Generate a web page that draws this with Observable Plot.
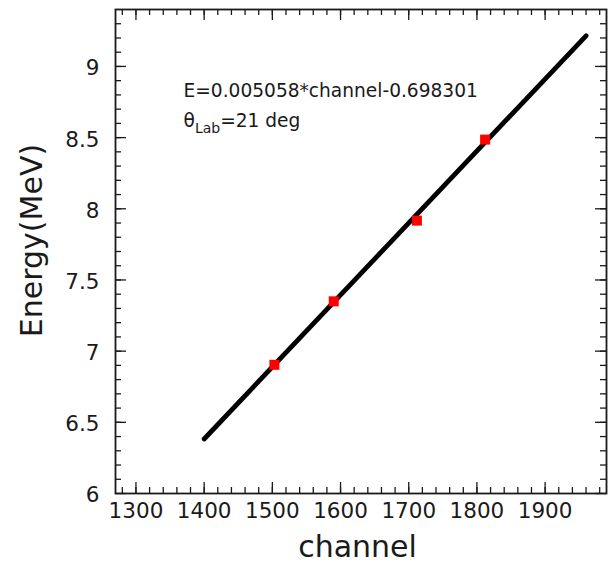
<!DOCTYPE html>
<html><head><meta charset="utf-8">
<script src="https://cdn.jsdelivr.net/npm/d3@7"></script>
<script src="https://cdn.jsdelivr.net/npm/@observablehq/plot@0.6"></script>
<style>body{margin:0;background:#fff}#chart{width:612px;height:562px}</style>
</head><body><div id="chart"></div>
<script>
// ---- data ----
const channels = [1503, 1590, 1712, 1812];
const energies = [6.904, 7.350, 7.917, 8.486];
const fitChannel = [1400, 1960];
const fitEnergy = [6.383, 9.215];
const xMajorTicks = [1300, 1400, 1500, 1600, 1700, 1800, 1900];
const yMajorTicks = [6, 6.5, 7, 7.5, 8, 8.5, 9];
const xMinorTicks = [1280,1300,1320,1340,1360,1380,1400,1420,1440,1460,1480,1500,1520,1540,1560,1580,1600,1620,1640,1660,1680,1700,1720,1740,1760,1780,1800,1820,1840,1860,1880,1900,1920,1940,1960,1980];
const yMinorTicks = [6.1,6.2,6.3,6.4,6.5,6.6,6.7,6.8,6.9,7,7.1,7.2,7.3,7.4,7.5,7.6,7.7,7.8,7.9,8,8.1,8.2,8.3,8.4,8.5,8.6,8.7,8.8,8.9,9,9.1,9.2,9.3];
const xTitle = ["channel"];
const yTitle = ["Energy(MeV)"];
const fitLabel = ["E=0.005058*channel-0.698301"];
const angleLabel = ["θ", "Lab", "=21 deg"];

// ---- layout ----
const W = 612, H = 562;
const mL = 115, mR = 6, mT = 9, mB = 69;
const fW = W - mL - mR, fH = H - mT - mB;
const majorLen = 11, minorLen = 6;
const ink = "#1a1a1a";

const points = channels.map((c, i) => ({c, e: energies[i]}));
const fit = fitChannel.map((c, i) => ({c, e: fitEnergy[i]}));

const chart = Plot.plot({
  width: W, height: H,
  marginLeft: mL, marginRight: mR, marginTop: mT, marginBottom: mB,
  style: {fontFamily: "'DejaVu Sans', sans-serif", background: "#fff", color: "#000"},
  x: {domain: [1270, 1990], axis: null},
  y: {domain: [6, 9.4], axis: null},
  marks: [
    // ticks (inward, all four sides)
    Plot.ruleX(xMinorTicks, {x: d => d, insetTop: fH - minorLen, stroke: ink, strokeWidth: 1.3}),
    Plot.ruleX(xMinorTicks, {x: d => d, insetBottom: fH - minorLen, stroke: ink, strokeWidth: 1.3}),
    Plot.ruleX(xMajorTicks, {x: d => d, insetTop: fH - majorLen, stroke: ink, strokeWidth: 1.3}),
    Plot.ruleX(xMajorTicks, {x: d => d, insetBottom: fH - majorLen, stroke: ink, strokeWidth: 1.3}),
    Plot.ruleY(yMinorTicks, {y: d => d, insetRight: fW - minorLen, stroke: ink, strokeWidth: 1.3}),
    Plot.ruleY(yMinorTicks, {y: d => d, insetLeft: fW - minorLen, stroke: ink, strokeWidth: 1.3}),
    Plot.ruleY(yMajorTicks, {y: d => d, insetRight: fW - majorLen, stroke: ink, strokeWidth: 1.3}),
    Plot.ruleY(yMajorTicks, {y: d => d, insetLeft: fW - majorLen, stroke: ink, strokeWidth: 1.3}),
    // tick labels
    Plot.text(xMajorTicks, {x: d => d, text: d => String(d), frameAnchor: "bottom", lineAnchor: "top", dy: 9, fontSize: 21.5, fill: ink}),
    Plot.text(yMajorTicks, {y: d => d, text: d => String(d), frameAnchor: "left", textAnchor: "end", lineAnchor: "middle", dx: -16, dy: 2, fontSize: 21.5, fill: ink}),
    Plot.frame({stroke: ink, strokeWidth: 1.8}),
    // fit line and measured points
    Plot.line(fit, {x: "c", y: "e", stroke: "#000", strokeWidth: 4.8}),
    Plot.dot(points, {x: "c", y: "e", symbol: "square", r: 5.64, fill: "#ff0000", stroke: null}),
    // annotations
    Plot.text(fitLabel, {text: d => d, frameAnchor: "top-left", textAnchor: "start", lineAnchor: "bottom", dx: 68, dy: 87, fontSize: 18.6, fill: ink}),
    Plot.text([angleLabel.join("")], {text: d => d, frameAnchor: "top-left", textAnchor: "start", lineAnchor: "bottom", dx: 68, dy: 117, fontSize: 18.6, fill: ink}),
    // axis titles
    Plot.text(xTitle, {text: d => d, frameAnchor: "bottom", textAnchor: "middle", lineAnchor: "bottom", dx: -3.5, dy: 63, fontSize: 30, fill: ink}),
    Plot.text(yTitle, {text: d => d, frameAnchor: "left", textAnchor: "middle", lineAnchor: "bottom", rotate: -90, dx: -74, dy: -11, fontSize: 30, fill: ink})
  ]
});

// subscript for θ_Lab
d3.select(chart).selectAll("text").filter(function() { return this.textContent === angleLabel.join(""); })
  .each(function() {
    const t = d3.select(this);
    t.text(null);
    t.append("tspan").text(angleLabel[0]);
    t.append("tspan").attr("font-size", 14).attr("dy", 6).text(angleLabel[1]);
    t.append("tspan").attr("dy", -6).text(angleLabel[2]);
  });

document.getElementById("chart").appendChild(chart);
</script>
</body></html>
